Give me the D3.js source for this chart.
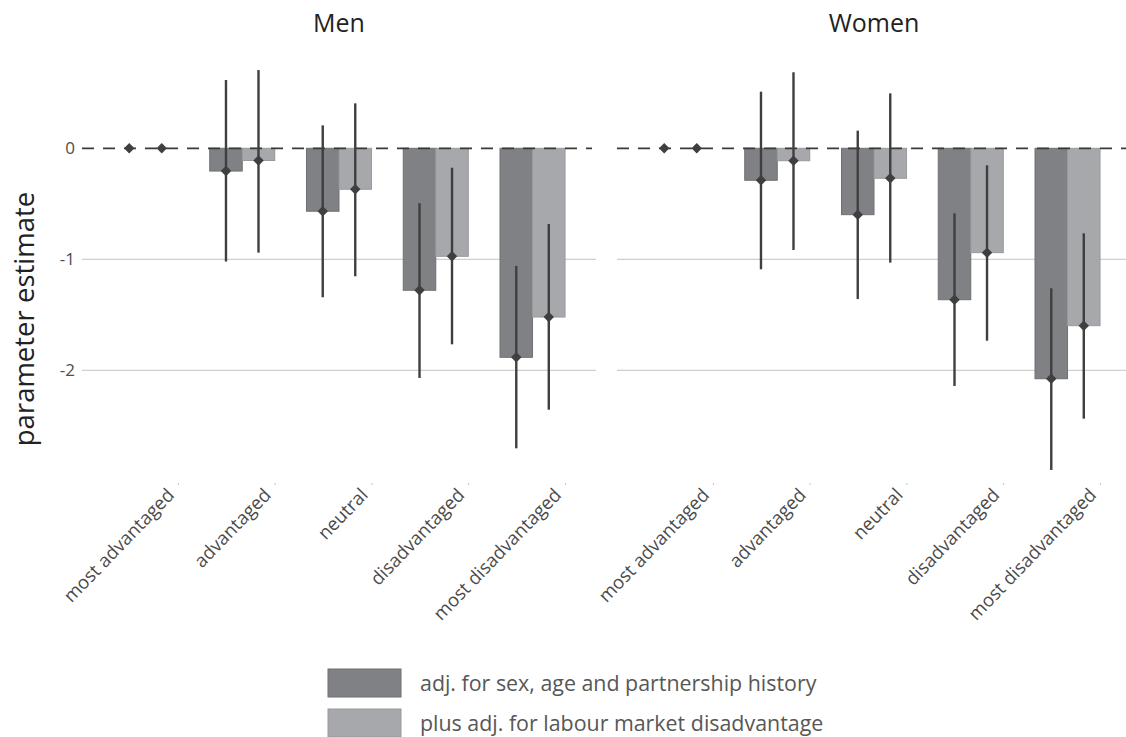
<!DOCTYPE html>
<html>
<head>
<meta charset="utf-8">
<script src="https://cdn.jsdelivr.net/npm/d3@7"></script>
<style>
  body { margin: 0; background: #fff; }
  svg { display: block; font-family: "Open Sans", "Noto Sans", sans-serif; }
</style>
</head>
<body>
<svg id="chart" width="1126" height="737"></svg>
<script>
// ---- data ----
const categories = ["most advantaged", "advantaged", "neutral", "disadvantaged", "most disadvantaged"];
const panels = ["Men", "Women"];
const seriesNames = ["adj. for sex, age and partnership history", "plus adj. for labour market disadvantage"];

// Men
const menAdj1     = [0, -0.205, -0.567, -1.279, -1.883];
const menAdj1Low  = [0, -1.02,  -1.342, -2.069, -2.703];
const menAdj1High = [0,  0.615,  0.207, -0.495, -1.06];
const menAdj2     = [0, -0.11,  -0.369, -0.973, -1.52];
const menAdj2Low  = [0, -0.94,  -1.153, -1.766, -2.355];
const menAdj2High = [0,  0.705,  0.405, -0.175, -0.682];
// Women
const womenAdj1     = [0, -0.288, -0.598, -1.364, -2.076];
const womenAdj1Low  = [0, -1.09,  -1.358, -2.141, -2.898];
const womenAdj1High = [0,  0.51,   0.159, -0.586, -1.261];
const womenAdj2     = [0, -0.112, -0.27,  -0.94,  -1.598];
const womenAdj2Low  = [0, -0.916, -1.03,  -1.733, -2.436];
const womenAdj2High = [0,  0.685,  0.495, -0.153, -0.766];

const yTicks = [0, -1, -2];
const yTickLabels = ["0", "-1", "-2"];

// ---- build table ----
const table = {
  Men: [
    {est: menAdj1, low: menAdj1Low, high: menAdj1High},
    {est: menAdj2, low: menAdj2Low, high: menAdj2High}
  ],
  Women: [
    {est: womenAdj1, low: womenAdj1Low, high: womenAdj1High},
    {est: womenAdj2, low: womenAdj2Low, high: womenAdj2High}
  ]
};

const fills = ["#808185", "#a7a8ab"];
const strokes = ["#6f7073", "#98999c"];
const dark = "#3f3f3f";

const svg = d3.select("#chart");
const panelWidth = 514;
const panelLeft = {Men: 82, Women: 617};

const y = d3.scaleLinear().domain([0, -2]).range([148.3, 370.3]);

// Y axis title
svg.append("text")
  .attr("transform", "translate(34," + 319 + ") rotate(-90)")
  .attr("text-anchor", "middle")
  .attr("font-size", 27.5)
  .attr("fill", "#222")
  .text("parameter estimate");

// Y tick labels
const yAxis = svg.append("g").attr("transform", "translate(82,0)");
yAxis.selectAll("text").data(yTicks).join("text")
  .attr("x", -7)
  .attr("y", d => y(d))
  .attr("dy", "0.35em")
  .attr("text-anchor", "end")
  .attr("font-size", 17)
  .attr("fill", "#4d4d4d")
  .text((d, i) => yTickLabels[i]);

panels.forEach(panel => {
  const g = svg.append("g").attr("transform", "translate(" + panelLeft[panel] + ",0)");
  const x = d3.scalePoint().domain(categories).range([0, panelWidth]).padding(0.656);
  const step = x.step();
  const sub = d3.scaleBand().domain([0, 1]).range([-step * 0.336, step * 0.336]);
  const tickX = c => x(c) + step * 0.34;

  // title
  g.append("text")
    .attr("x", panelWidth / 2)
    .attr("y", 32)
    .attr("text-anchor", "middle")
    .attr("font-size", 25)
    .attr("fill", "#222")
    .text(panel);

  // gridlines
  g.selectAll("line.grid").data(yTicks.filter(t => t !== 0)).join("line")
    .attr("class", "grid")
    .attr("x1", 0).attr("x2", panelWidth)
    .attr("y1", d => y(d)).attr("y2", d => y(d))
    .attr("stroke", "#cfcfcf").attr("stroke-width", 1.3);

  // bars
  const rows = [];
  table[panel].forEach((s, si) => {
    categories.forEach((c, ci) => {
      rows.push({c, ci, si, est: s.est[ci], low: s.low[ci], high: s.high[ci]});
    });
  });

  g.selectAll("rect.bar").data(rows.filter(r => r.est !== 0)).join("rect")
    .attr("class", "bar")
    .attr("x", d => x(d.c) + sub(d.si))
    .attr("width", sub.bandwidth())
    .attr("y", d => Math.min(y(0), y(d.est)))
    .attr("height", d => Math.abs(y(d.est) - y(0)))
    .attr("fill", d => fills[d.si])
    .attr("stroke", d => strokes[d.si])
    .attr("stroke-width", 1);

  // dashed zero line
  g.append("line")
    .attr("x1", 0).attr("x2", panelWidth - 4)
    .attr("y1", y(0)).attr("y2", y(0))
    .attr("stroke", "#3a3a3a").attr("stroke-width", 1.8)
    .attr("stroke-dasharray", "12,9");

  // error bars
  g.selectAll("line.err").data(rows.filter(r => r.low !== r.high)).join("line")
    .attr("class", "err")
    .attr("x1", d => x(d.c) + sub(d.si) + sub.bandwidth() / 2)
    .attr("x2", d => x(d.c) + sub(d.si) + sub.bandwidth() / 2)
    .attr("y1", d => y(d.low)).attr("y2", d => y(d.high))
    .attr("stroke", dark).attr("stroke-width", 2.4);

  // diamonds
  const diamond = d3.symbol().type(d3.symbolDiamond2).size(70);
  g.selectAll("path.pt").data(rows).join("path")
    .attr("class", "pt")
    .attr("transform", d => "translate(" + (x(d.c) + sub(d.si) + sub.bandwidth() / 2) + "," + y(d.est) + ")")
    .attr("d", diamond)
    .attr("fill", dark);

  // x tick marks and labels
  g.selectAll("line.tick").data(categories).join("line")
    .attr("class", "tick")
    .attr("x1", d => tickX(d)).attr("x2", d => tickX(d))
    .attr("y1", 483).attr("y2", 485)
    .attr("stroke", "#c8c8c8").attr("stroke-width", 1);

  g.selectAll("text.xlab").data(categories).join("text")
    .attr("class", "xlab")
    .attr("transform", d => "translate(" + (tickX(d) - 3) + "," + 496 + ") rotate(-46)")
    .attr("text-anchor", "end")
    .attr("font-size", 18.5)
    .attr("fill", "#4a4a4a")
    .text(d => d);
});

// legend
const legend = svg.append("g").attr("transform", "translate(328,669)");
const lg = legend.selectAll("g").data(seriesNames).join("g")
  .attr("transform", (d, i) => "translate(0," + (i * 40) + ")");
lg.append("rect")
  .attr("width", 73).attr("height", 28)
  .attr("fill", (d, i) => fills[i])
  .attr("stroke", (d, i) => strokes[i]);
lg.append("text")
  .attr("x", 92).attr("y", 14)
  .attr("dy", "0.35em")
  .attr("font-size", 21.4)
  .attr("fill", "#575757")
  .text(d => d);
</script>
</body>
</html>
